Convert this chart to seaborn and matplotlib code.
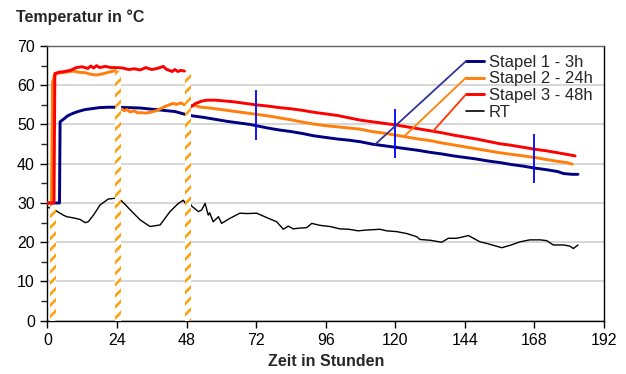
import numpy as np
import pandas as pd
import matplotlib
matplotlib.use("Agg")
import matplotlib.pyplot as plt
import seaborn as sns

# Stapel 1 - 3h (one continuous run)
s1_hours = [0, 4.2, 4.4, 5.5, 7, 9, 11, 13, 15, 18, 21, 24, 28, 32, 36, 40, 44, 47.5,
            50, 54, 58, 62, 66, 70, 72, 76, 80, 84, 88, 92, 96, 100, 104, 108, 112,
            116, 120, 124, 128, 132, 136, 140, 144, 148, 152, 156, 160, 164, 168,
            172, 176, 178, 181, 183]
s1_temp = [30, 30, 50.7, 51.3, 52.2, 52.9, 53.4, 53.8, 54.0, 54.3, 54.4, 54.4, 54.3,
           54.2, 53.9, 53.6, 53.3, 52.6, 52.2, 51.8, 51.3, 50.8, 50.4, 50.0, 49.7,
           49.1, 48.6, 48.2, 47.7, 47.1, 46.7, 46.3, 46.0, 45.6, 45.0, 44.6, 44.2,
           43.8, 43.4, 42.9, 42.5, 42.0, 41.6, 41.2, 40.7, 40.3, 39.8, 39.4, 38.9,
           38.5, 38.0, 37.5, 37.3, 37.3]

# Stapel 2 - 24h (three runs, broken at the re-stacking)
s2_hours_a = [0, 1.4, 1.8, 2.5, 3.5, 5, 7, 9, 11, 13, 15, 17, 19, 21, 23.5]
s2_temp_a = [30, 30, 60.8, 62.6, 63.0, 63.2, 63.4, 63.6, 63.3, 63.2, 62.8, 62.6, 62.9,
             63.3, 63.7]
s2_hours_b = [25.5, 26.5, 27.5, 28.5, 30, 31, 32.5, 34, 36, 38, 40, 42, 43.5, 44.5,
              46, 47.3]
s2_temp_b = [54.0, 53.5, 53.8, 53.2, 53.5, 53.0, 53.0, 52.9, 53.2, 53.6, 54.4, 55.0,
             55.4, 55.1, 55.5, 55.0]
s2_hours_c = [49.5, 51, 53, 56, 60, 64, 68, 72, 76, 80, 84, 88, 92, 96, 100, 104,
              108, 112, 116, 120, 124, 128, 132, 136, 140, 144, 148, 152, 156, 160,
              164, 168, 172, 176, 179, 181]
s2_temp_c = [54.8, 54.8, 54.4, 54.2, 53.8, 53.4, 53.0, 52.6, 52.2, 51.7, 51.2, 50.6,
             50.1, 49.7, 49.4, 49.1, 48.8, 48.2, 47.8, 47.3, 46.8, 46.3, 45.9, 45.3,
             44.8, 44.3, 43.8, 43.3, 42.8, 42.4, 42.0, 41.6, 41.1, 40.6, 40.3, 39.9]

# Stapel 3 - 48h (two runs)
s3_hours_a = [0, 2.3, 2.6, 4, 6, 8, 10, 12, 14, 15, 16, 17, 18, 20, 22, 24, 26, 28,
              30, 32, 34, 36, 38, 40, 41, 43, 44, 45, 46, 47.3]
s3_temp_a = [30, 30, 63.0, 63.3, 63.5, 63.8, 64.5, 64.7, 64.3, 64.9, 64.4, 65.0, 64.5,
             64.8, 64.5, 64.5, 64.4, 64.0, 64.2, 63.9, 64.5, 64.0, 64.3, 64.8, 64.1,
             63.5, 64.0, 63.5, 63.8, 63.6]
s3_hours_b = [49.5, 51, 53, 55, 58, 61, 64, 68, 72, 76, 80, 84, 88, 92, 96, 100, 104,
              108, 112, 116, 120, 124, 128, 132, 136, 140, 144, 148, 152, 156, 160,
              164, 168, 172, 176, 179, 182]
s3_temp_b = [54.5, 55.3, 55.9, 56.2, 56.2, 56.0, 55.8, 55.4, 55.0, 54.7, 54.3, 54.0,
             53.6, 53.1, 52.7, 52.3, 51.7, 51.1, 50.7, 50.3, 49.9, 49.4, 48.9, 48.4,
             47.9, 47.3, 46.8, 46.3, 45.7, 45.1, 44.7, 44.2, 43.7, 43.3, 42.8, 42.4,
             42.0]

# RT (room temperature)
rt_hours = [0.3, 2.6, 5.5, 6.7, 9, 11.3, 13, 14.1, 16, 18.2, 21, 23.3, 24.5, 26.2, 28,
            29.7, 32, 35.4, 38.9, 42.3, 45.2, 46.9, 47.5, 48, 49.8, 52.1, 53.2, 54.4,
            55.5, 56, 57.2, 59, 60.1, 63, 66.4, 69, 72.2, 75.6, 79.1, 81.4, 83.1,
            84.8, 87, 89.4, 91.2, 94, 97.5, 100.9, 104, 107.2, 110, 114.7, 117,
            120.5, 124, 127.4, 128.5, 132, 136, 138.3, 141, 143, 145.2, 149.2, 152,
            156.7, 160, 163, 166.4, 170, 172.2, 174.5, 178, 180.2, 181.4, 183]
rt_temp = [28.9, 28.2, 26.9, 26.5, 26.2, 25.8, 25.0, 25.2, 27.0, 29.5, 31.0, 31.2,
           31.3, 30.1, 28.7, 27.4, 25.7, 24.0, 24.4, 27.8, 29.9, 30.7, 30.0, 31.2,
           29.2, 27.8, 28.2, 29.9, 26.9, 27.5, 25.2, 26.5, 24.8, 26.1, 27.4, 27.3,
           27.4, 26.3, 25.2, 23.3, 24.1, 23.4, 23.6, 23.7, 24.8, 24.3, 24.0, 23.4,
           23.3, 22.9, 23.1, 23.3, 22.9, 22.7, 22.2, 21.4, 20.7, 20.5, 20.0, 21.0,
           21.0, 21.3, 21.7, 20.1, 19.6, 18.6, 19.3, 20.1, 20.6, 20.6, 20.4, 19.3,
           19.3, 19.0, 18.4, 19.3]

# re-stacking events (hatched bars)
event_hours = [2, 24.5, 48.5]
event_top = [29.5, 63.7, 63.3]

# measurement markers
marker_hours = [72, 120, 168]
marker_low = [46.0, 41.4, 35.2]
marker_high = [58.8, 53.9, 47.5]

# where the legend leader lines touch the curves
leader_hours = [113, 123, 133]

series_names = ["Stapel 1 - 3h", "Stapel 2 - 24h", "Stapel 3 - 48h", "RT"]
colors = ["#000080", "#FF7F0A", "#FF0000", "#000000"]
leader_colors = ["#333399", "#FF7F0A", "#FF3300"]


def frame(name, seg, hours, temp):
    return pd.DataFrame({"hours": hours, "temp": temp, "series": name,
                         "segment": f"{name}-{seg}"})


df = pd.concat([
    frame(series_names[0], 0, s1_hours, s1_temp),
    frame(series_names[1], 0, s2_hours_a, s2_temp_a),
    frame(series_names[1], 1, s2_hours_b, s2_temp_b),
    frame(series_names[1], 2, s2_hours_c, s2_temp_c),
    frame(series_names[2], 0, s3_hours_a, s3_temp_a),
    frame(series_names[2], 1, s3_hours_b, s3_temp_b),
    frame(series_names[3], 0, rt_hours, rt_temp),
], ignore_index=True)

sns.set_style("ticks")
plt.rcParams["font.family"] = ["Liberation Sans", "DejaVu Sans"]
plt.rcParams["hatch.linewidth"] = 1.9

fig = plt.figure(figsize=(6.26, 3.74), dpi=100)
ax = fig.add_axes([0.0756, 0.1425, 0.8894, 0.7345])

palette = dict(zip(series_names, colors))
sns.lineplot(data=df, x="hours", y="temp", hue="series", units="segment",
             estimator=None, palette=palette, hue_order=series_names,
             size="series", sizes={series_names[0]: 2.1, series_names[1]: 2.1,
                                   series_names[2]: 2.1, series_names[3]: 1.0},
             legend=False, ax=ax, zorder=3)

ax.bar(event_hours, event_top, width=2.0, facecolor="white", edgecolor="#FFA010",
       hatch="///", linewidth=0, zorder=4)

ax.vlines(marker_hours, marker_low, marker_high, color="#0000FF", lw=1.3, zorder=5)

ax.set_xlim(0, 192)
ax.set_ylim(0, 70)
ax.set_xticks(np.arange(0, 193, 24))
ax.set_yticks(np.arange(0, 71, 10))
ax.set_yticks(np.arange(5, 70, 10), minor=True)
ax.yaxis.grid(True, color="#D0D0D0", lw=1.2, zorder=0)
ax.set_axisbelow(True)
ax.tick_params(axis="both", which="major", length=5, width=1, labelsize=11.5,
               colors="black", pad=4)
ax.tick_params(axis="y", which="minor", length=4, width=1)
for side in ["left", "bottom", "top", "right"]:
    ax.spines[side].set_visible(True)
    ax.spines[side].set_color("black")
    ax.spines[side].set_linewidth(1)
ax.spines["top"].set_color("#606060")

ax.set_xlabel("Zeit in Stunden", fontsize=11.5, fontweight="bold", labelpad=4)
ax.set_ylabel("")
fig.text(16 / 626, 1 - 17 / 374, "Temperatur in °C", fontsize=11.5,
         fontweight="bold", va="center", ha="left")

# legend with leader lines from the handles down to the curves
handles = [plt.Line2D([], [], color=c, lw=2.1 if i < 3 else 1.2)
           for i, c in enumerate(colors)]
leg = ax.legend(handles, series_names, loc="upper left",
                bbox_to_anchor=(0.752, 0.968), frameon=False, fontsize=12,
                handlelength=1.05, handletextpad=0.3, labelspacing=0.1,
                borderpad=0, borderaxespad=0)

leader_rows = [0.945, 0.885, 0.824]
series_runs = [(s1_hours, s1_temp), (s2_hours_c, s2_temp_c), (s3_hours_b, s3_temp_b)]
for h, row, (hh, tt), c in zip(leader_hours, leader_rows, series_runs, leader_colors):
    ax.annotate("", xy=(h, np.interp(h, hh, tt)), xycoords="data",
                xytext=(0.752, row), textcoords="axes fraction",
                arrowprops=dict(arrowstyle="-", color=c, lw=1.3,
                                shrinkA=0, shrinkB=0), zorder=6)

fig.savefig("out.png", dpi=100)
